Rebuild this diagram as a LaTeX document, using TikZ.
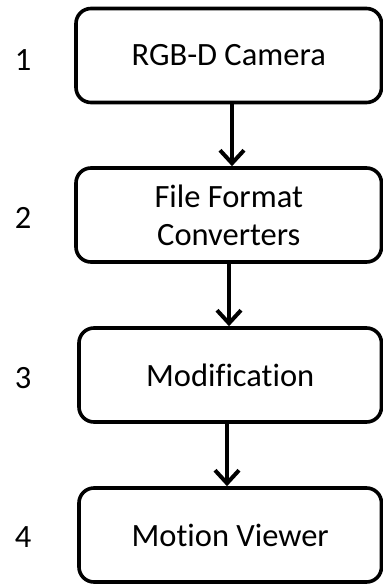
\documentclass[tikz,border=0pt]{standalone}
\usepackage{fontspec}
\setmainfont{Carlito}[Ligatures=NoCommon]
\usetikzlibrary{arrows.meta}
\begin{document}
\begin{tikzpicture}[x=1pt,y=-1pt,
  box/.style={draw=black,line width=3.6pt,rounded corners=15pt,fill=white,
    inner sep=0pt,align=center,font=\fontsize{32.5}{38}\selectfont},
  num/.style={font=\fontsize{32.5}{38}\selectfont,inner sep=0pt},
  flow/.style={line width=4pt,-{Straight Barb[length=13pt,width=24pt,line width=4pt]}}]
\useasboundingbox (0,0) rectangle (383,584);
\node[box,minimum width=305.5pt,minimum height=94pt] (b1) at (228.75,55.5) {RGB-D Camera};
\node[box,minimum width=305.5pt,minimum height=94pt] (b2) at (228.75,215) {File Format\\Converters};
\node[box,minimum width=302.5pt,minimum height=94pt] (b3) at (230.25,375) {Modification};
\node[box,minimum width=302.5pt,minimum height=94pt] (b4) at (230.25,535) {Motion Viewer};
\node[num] (n1) at (23,60) {1};
\node[num] (n2) at (23,218) {2};
\node[num] (n3) at (23,378) {3};
\node[num] (n4) at (23,537) {4};
\draw[flow] (b1.south -| 232,0) -- (b2.north -| 232,0);
\draw[flow] (b2.south -| 229,0) -- (b3.north -| 229,0);
\draw[flow] (b3.south -| 227,0) -- (b4.north -| 227,0);
\end{tikzpicture}
\end{document}
